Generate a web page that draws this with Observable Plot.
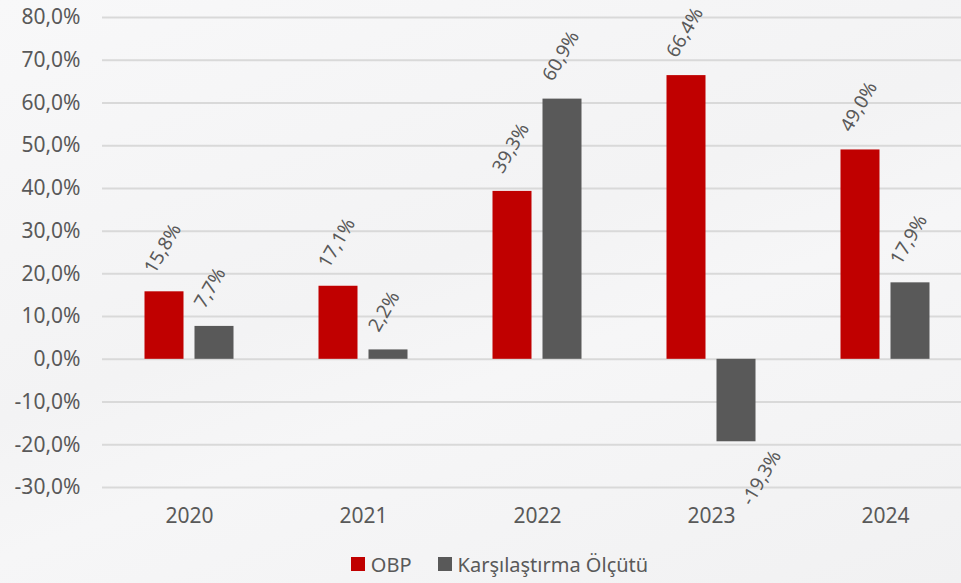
<!DOCTYPE html>
<html>
<head>
<meta charset="utf-8">
<script src="https://cdn.jsdelivr.net/npm/d3@7"></script>
<script src="https://cdn.jsdelivr.net/npm/@observablehq/plot@0.6"></script>
<style>
  html, body { margin: 0; padding: 0; }
  body {
    width: 961px; height: 583px; overflow: hidden;
    background: linear-gradient(160deg, #f8f8f9 0%, #f3f3f4 45%, #f6f6f7 60%, #f1f1f2 100%);
    font-family: "Noto Sans", sans-serif; color: #595959;
  }
  #legend {
    display: flex; justify-content: center; align-items: center;
    height: 38px; font-size: 20px; color: #595959; padding-left: 38px;
  }
  .item { display: flex; align-items: center; margin: 0 13px; }
  .sw { width: 14px; height: 14px; margin-right: 6px; }
</style>
</head>
<body>
<div id="chart"></div>
<div id="legend"></div>
<script>
const years = ["2020", "2021", "2022", "2023", "2024"];
const seriesNames = ["OBP", "Karşılaştırma Ölçütü"];
const obp = [15.8, 17.1, 39.3, 66.4, 49.0];
const benchmark = [7.7, 2.2, 60.9, -19.3, 17.9];
const yTicks = [-30, -20, -10, 0, 10, 20, 30, 40, 50, 60, 70, 80];
const colors = ["#C00000", "#595959"];

const rows = [];
years.forEach((y, i) => {
  rows.push({year: y, series: seriesNames[0], value: obp[i]});
  rows.push({year: y, series: seriesNames[1], value: benchmark[i]});
});
const fmt = v => v.toFixed(1).replace(".", ",") + "%";
const obpRows = rows.filter(d => d.series === seriesNames[0]);
const bmRows = rows.filter(d => d.series === seriesNames[1]);

const labelStyle = {
  text: d => fmt(d.value), rotate: -60, textAnchor: "start",
  fontSize: 19, fill: "#595959", fontFamily: "Noto Sans"
};

const chart = Plot.plot({
  width: 961,
  height: 545,
  marginLeft: 102,
  marginRight: 0,
  marginTop: 17,
  marginBottom: 58,
  style: {background: "transparent", fontFamily: "Noto Sans", color: "#595959"},
  x: {domain: years, range: [102, 972], padding: 0, label: null},
  y: {domain: [-30, 80], label: null},
  marks: [
    Plot.ruleY(yTicks, {stroke: "#d9d9d9", strokeWidth: 2}),
    Plot.barY(obpRows, {x: "year", y: "value", fill: colors[0], insetLeft: 42.5, insetRight: 92.5}),
    Plot.barY(bmRows, {x: "year", y: "value", fill: colors[1], insetLeft: 92.5, insetRight: 42.5}),
    Plot.text(obpRows, {x: "year", y: "value", dx: -40, dy: -20, ...labelStyle}),
    Plot.text(bmRows.filter(d => d.value >= 0), {x: "year", y: "value", dx: 10, dy: -20, ...labelStyle}),
    Plot.text(bmRows.filter(d => d.value < 0), {x: "year", y: "value", dx: 35, dy: 62, ...labelStyle}),
    Plot.axisY(yTicks, {tickSize: 0, tickPadding: 22, tickFormat: fmt, fontSize: 21, fill: "#595959", label: null}),
    Plot.axisX({tickSize: 0, tickPadding: 21, fontSize: 21, fill: "#595959", label: null})
  ]
});
document.getElementById("chart").appendChild(chart);

const legend = document.getElementById("legend");
seriesNames.forEach((name, i) => {
  const item = document.createElement("div");
  item.className = "item";
  const sw = document.createElement("div");
  sw.className = "sw";
  sw.style.background = colors[i];
  const t = document.createElement("span");
  t.textContent = name;
  item.appendChild(sw);
  item.appendChild(t);
  legend.appendChild(item);
});
</script>
</body>
</html>
